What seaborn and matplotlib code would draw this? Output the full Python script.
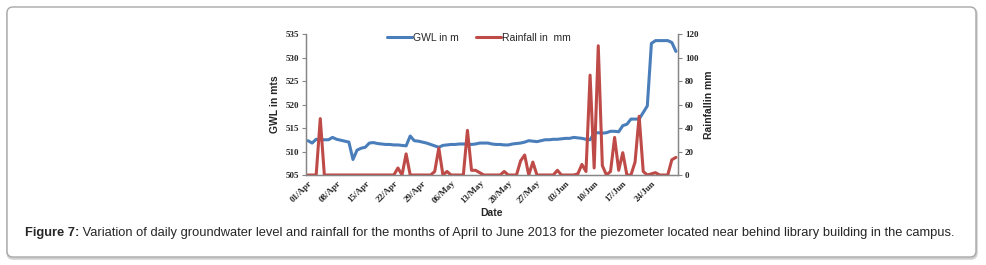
import numpy as np
import pandas as pd
import matplotlib
matplotlib.use("Agg")
import matplotlib.pyplot as plt
import seaborn as sns
from matplotlib.patches import FancyBboxPatch

# daily values, 01/Apr to 30/Jun 2013
gwl = [512.3, 511.8, 512.6, 512.5, 512.5, 512.5, 513.0, 512.6, 512.4, 512.2,
       512.0, 508.3, 510.3, 510.7, 510.9, 511.8, 511.9, 511.7, 511.6, 511.5,
       511.5, 511.4, 511.4, 511.3, 511.2, 513.3, 512.3, 512.2, 512.0, 511.8,
       511.5, 511.2, 510.9, 511.3, 511.4, 511.5, 511.5, 511.6, 511.6, 511.6,
       511.5, 511.6, 511.8, 511.8, 511.8, 511.6, 511.5, 511.5, 511.4, 511.4,
       511.6, 511.7, 511.8, 512.0, 512.3, 512.2, 512.1, 512.3, 512.5, 512.5,
       512.6, 512.6, 512.7, 512.8, 512.8, 513.0, 512.9, 512.8, 512.6, 512.5,
       513.9, 514.0, 513.9, 514.0, 514.3, 514.3, 514.2, 515.5, 515.8, 516.9,
       516.9, 516.9, 518.3, 519.7, 533.0, 533.6, 533.6, 533.6, 533.6, 533.2,
       531.3]
rain = [0, 0, 0, 48, 0, 0, 0, 0, 0, 0,
        0, 0, 0, 0, 0, 0, 0, 0, 0, 0,
        0, 0, 6, 0, 18, 0, 0, 0, 0, 0,
        0, 3, 23, 0, 3, 0, 0, 0, 0, 38,
        4, 4, 2, 0, 0, 0, 0, 0, 3, 0,
        0, 0, 12, 17, 0, 11, 0, 0, 0, 0,
        0, 4, 0, 0, 0, 0, 1, 9, 3, 85,
        6, 110, 8, 0, 3, 32, 4, 19, 0, 0,
        11, 50, 3, 0, 1, 2, 0, 0, 0, 13,
        15]
tick_labels = ["01/Apr", "08/Apr", "15/Apr", "22/Apr", "29/Apr", "06/May", "13/May",
               "20/May", "27/May", "03/Jun", "10/Jun", "17/Jun", "24/Jun"]

df = pd.DataFrame({"day": np.arange(len(gwl)), "gwl": gwl, "rain": rain})

blue = "#4A7EBB"
red = "#BE4B48"
axis_grey = "#868686"

sns.set_style("white")
plt.rcParams["font.family"] = ["Liberation Sans", "DejaVu Sans"]

fig = plt.figure(figsize=(9.86, 2.65), dpi=100)

# rounded frame around the figure, drawn in pixel units
bg = fig.add_axes([0, 0, 1, 1], zorder=-5)
bg.set_xlim(0, 986)
bg.set_ylim(265, 0)
bg.axis("off")
bg.add_patch(FancyBboxPatch((7.5, 8.5), 969, 250, boxstyle="round,pad=0,rounding_size=6",
                            fc="none", ec="#d0d0d0", lw=1.8))
bg.add_patch(FancyBboxPatch((7, 7), 969, 250, boxstyle="round,pad=0,rounding_size=6",
                            fc="white", ec="#a8a8a8", lw=1.0))

ax = fig.add_axes([0.3103, 0.3396, 0.3773, 0.532])
ax2 = ax.twinx()

sns.lineplot(data=df, x="day", y="gwl", ax=ax, color=blue, lw=2.2, label="GWL in m", legend=False)
sns.lineplot(data=df, x="day", y="rain", ax=ax2, color=red, lw=2.2, label="Rainfall in  mm", legend=False)

ax.set_xlim(-0.5, len(gwl) - 0.5)
ax.set_ylim(505, 535)
ax2.set_ylim(0, 120)
ax.set_yticks(range(505, 536, 5))
ax2.set_yticks(range(0, 121, 20))
ax.set_xticks(range(0, 7 * len(tick_labels), 7))

serif_bold = dict(family=["Liberation Serif", "DejaVu Serif"], weight="bold", size=6.5)
ax.set_xticklabels(tick_labels, rotation=45, ha="right", rotation_mode="anchor", **serif_bold)
ax.set_yticklabels([str(v) for v in range(505, 536, 5)], **serif_bold)
ax2.set_yticklabels([str(v) for v in range(0, 121, 20)], **serif_bold)

for a in (ax, ax2):
    a.spines["top"].set_visible(False)
    for side in ("left", "right", "bottom"):
        a.spines[side].set_color(axis_grey)
        a.spines[side].set_linewidth(0.9)
ax.tick_params(axis="y", direction="out", length=3, width=0.8, color=axis_grey, pad=2, left=True)
ax2.tick_params(axis="y", direction="out", length=3, width=0.8, color=axis_grey, pad=2, right=True)
ax.tick_params(axis="x", direction="out", length=0, pad=3)

lab = dict(weight="bold", size=7.5)
ax.set_ylabel("GWL in mts", labelpad=4, **lab)
ax2.set_ylabel("Rainfallin mm", labelpad=4, **lab)
ax.set_xlabel("Date", labelpad=2, **lab)

h1, l1 = ax.get_legend_handles_labels()
h2, l2 = ax2.get_legend_handles_labels()
fig.legend(h1 + h2, l1 + l2, loc="center", bbox_to_anchor=(479 / 986, 1 - 38 / 265),
           ncol=2, frameon=False, fontsize=7.5, handlelength=2.4, handletextpad=0.15,
           columnspacing=1.6)

# caption: bold figure number followed by regular text
cap_y = 1 - 233 / 265
t1 = fig.text(25 / 986, cap_y, "Figure 7:", weight="bold", size=9.3, va="center")
fig.canvas.draw()
bb = t1.get_window_extent()
fig.text(bb.x1 / 986, cap_y,
         " Variation of daily groundwater level and rainfall for the months of April to June 2013 "
         "for the piezometer located near behind library building in the campus.",
         size=9.3, va="center")

fig.savefig("out.png", dpi=100)
